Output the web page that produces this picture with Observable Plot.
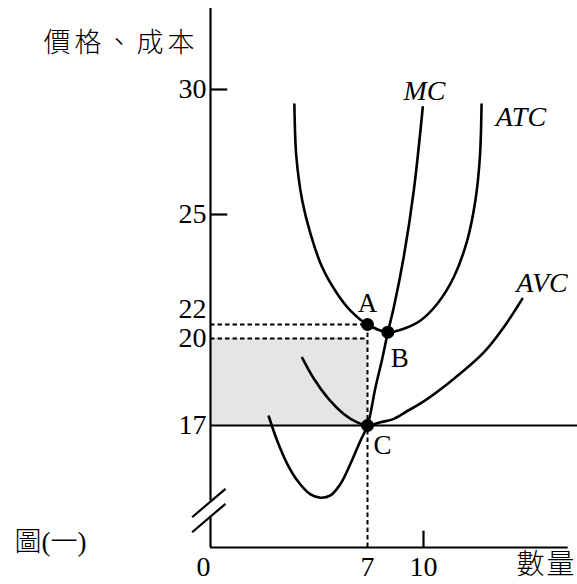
<!DOCTYPE html>
<html><head><meta charset="utf-8">
<script src="https://cdn.jsdelivr.net/npm/d3@7"></script>
<script src="https://cdn.jsdelivr.net/npm/@observablehq/plot@0.6"></script>
<style>
html,body{margin:0;padding:0;background:#fff;}
#chart{width:577px;height:584px;overflow:hidden;}
</style></head>
<body><div id="chart"></div>
<script>
// ---- axis tick values (schematic, piecewise-scaled axes) ----
const xTickValues = [0, 7, 10];
const yTickValues = [30, 25, 22, 20, 17];
const yTickMarks = [30, 25];
const xTickMarks = [10];
const yAxisTop = 33.24;
const xAxisEnd = 17.75;
const line17End = 18.25;
const yAxisGap = [4.39, 6.48];

// ---- cost curves (quantity, price) ----
const atcQ = [3.74, 3.83, 4.09, 4.46, 4.98, 5.65, 6.24, 7, 8.09, 8.94, 9.84, 10.73, 11.62, 12.34, 12.78, 13.02, 13.11];
const atcV = [29.4, 27.29, 25.56, 24.47, 23.56, 22.84, 22.38, 22, 20.9, 21.39, 22.11, 22.56, 23.29, 24.29, 25.56, 27.29, 29.4];
const mcQ = [2.60, 2.97, 3.42, 3.87, 4.46, 4.90, 5.35, 5.80, 6.24, 6.69, 7, 7.43, 7.79, 8.09, 8.41, 8.94, 9.48, 9.96];
const mcV = [17.31, 14.91, 11.66, 9.34, 7.39, 6.93, 7.25, 8.88, 11.66, 14.91, 17, 18.32, 19.30, 20.9, 22.47, 23.84, 25.96, 29.29];
const avcQ = [4.09, 4.61, 5.20, 5.94, 6.54, 7, 7.70, 8.41, 9.13, 9.84, 11.45, 13.23, 14.30, 15.29];
const avcV = [19.33, 18.61, 17.98, 17.40, 17.11, 17, 17.11, 17.23, 17.50, 17.76, 18.52, 19.52, 21.61, 22.70];

// ---- curve labels ----
const curveNames = ["MC", "ATC", "AVC"];
const curveLabelQ = [10.05, 15.22, 16.35];
const curveLabelV = [29.92, 28.88, 23.12];

// ---- marked points ----
const pointNames = ["A", "B", "C"];
const pointQ = [7, 8.09, 7];
const pointV = [22, 20.9, 17];

// ---- shaded area (quantity 0..7, price 17..20) ----
const shadeQ = [0, 7];
const shadeV = [17, 20];

// ---- axis break slashes ----
const breakQ = [-0.82, 0.67];
const breakV1 = [4.22, 8.18];
const breakV2 = [2.13, 6.09];

// ---- texts ----
const yTitle = "價格、成本";
const xTitle = "數量";
const figTitle = "圖(一)";

const serif = '"Liberation Serif", "Noto Sans CJK TC", serif';

const curveData = [
  ...atcQ.map((q, i) => ({name: "ATC", q, v: atcV[i]})),
  ...mcQ.map((q, i) => ({name: "MC", q, v: mcV[i]})),
  ...avcQ.map((q, i) => ({name: "AVC", q, v: avcV[i]}))
];
const labels = curveNames.map((n, i) => ({n, q: curveLabelQ[i], v: curveLabelV[i]}));
const pts = pointNames.map((n, i) => ({n, q: pointQ[i], v: pointV[i]}));
const A = pts[0];
const slashes = [breakV1, breakV2].map(b => ({q1: breakQ[0], q2: breakQ[1], v1: b[0], v2: b[1]}));
const dash = {stroke: "#000", strokeWidth: 2, strokeDasharray: "4.5,3"};

const plot = Plot.plot({
  width: 577,
  height: 584,
  marginLeft: 210,
  marginRight: 9,
  marginTop: 8,
  marginBottom: 37,
  style: {fontFamily: serif, fontSize: "28px", background: "#fff", color: "#000", overflow: "visible"},
  x: {type: "linear", domain: [0, 7, 10], range: [210, 367, 423]},
  y: {type: "linear", domain: [0, 17, 20, 22, 25, 30], range: [547, 425, 338, 324, 214, 89]},
  marks: [
    // shaded rectangle
    Plot.rect([{}], {x1: shadeQ[0], x2: shadeQ[1], y1: shadeV[0], y2: shadeV[1], fill: "#e5e5e5"}),
    // dashed guides
    Plot.ruleY([A.v], {x1: 0, x2: A.q, ...dash}),
    Plot.ruleY([shadeV[1]], {x1: 0, x2: shadeQ[1], ...dash}),
    Plot.ruleX([A.q], {y1: 0, y2: A.v, ...dash}),
    // price line at 17
    Plot.ruleY([shadeV[0]], {x1: 0, x2: line17End, stroke: "#000", strokeWidth: 2}),
    // axes
    Plot.ruleY([0], {x1: 0, x2: xAxisEnd, stroke: "#000", strokeWidth: 2.2}),
    Plot.ruleX([0], {y1: 0, y2: yAxisGap[0], stroke: "#000", strokeWidth: 2.2}),
    Plot.ruleX([0], {y1: yAxisGap[1], y2: yAxisTop, stroke: "#000", strokeWidth: 2.2}),
    Plot.link(slashes, {x1: "q1", y1: "v1", x2: "q2", y2: "v2", stroke: "#000", strokeWidth: 2.2}),
    Plot.ruleY(yTickMarks, {x1: 0, x2: 0.77, stroke: "#000", strokeWidth: 2.2}),
    Plot.ruleX(xTickMarks, {y1: 0, y2: 2.27, stroke: "#000", strokeWidth: 2.2}),
    // tick labels
    Plot.axisY(yTickValues.filter(d => d !== 22), {anchor: "left", tickSize: 0, tickPadding: 4, fontSize: 28, fontFamily: serif}),
    Plot.axisY(yTickValues.filter(d => d === 22), {anchor: "left", tickSize: 0, tickPadding: 4, dy: -15, fontSize: 28, fontFamily: serif}),
    Plot.axisX(xTickValues.filter(d => d !== 0), {anchor: "bottom", tickSize: 0, tickPadding: 9, fontSize: 28, fontFamily: serif}),
    Plot.axisX(xTickValues.filter(d => d === 0), {anchor: "bottom", tickSize: 0, tickPadding: 9, dx: -7, fontSize: 28, fontFamily: serif}),
    // curves
    Plot.line(curveData, {x: "q", y: "v", z: "name", curve: "catmull-rom", stroke: "#000", strokeWidth: 2.6}),
    // points
    Plot.dot(pts, {x: "q", y: "v", r: 6.5, fill: "#000", stroke: "none"}),
    Plot.text(pts.filter(d => d.n === "A"), {x: "q", y: "v", text: "n", dy: -21, fontSize: 27, fontFamily: serif}),
    Plot.text(pts.filter(d => d.n === "B"), {x: "q", y: "v", text: "n", dx: 12, dy: 26, fontSize: 27, fontFamily: serif}),
    Plot.text(pts.filter(d => d.n === "C"), {x: "q", y: "v", text: "n", dx: 15, dy: 20, fontSize: 27, fontFamily: serif}),
    // curve labels
    Plot.text(labels, {x: "q", y: "v", text: "n", fontSize: 28, fontStyle: "italic", fontFamily: serif}),
    // titles
    Plot.text([yTitle], {frameAnchor: "top-left", textAnchor: "end", dx: -12, dy: 24, fontSize: 27, fontWeight: 300, fontFamily: serif}),
    Plot.text([xTitle], {frameAnchor: "bottom-right", textAnchor: "start", dx: -52, dy: 26, fontSize: 28, fontWeight: 300, fontFamily: serif}),
    Plot.text([figTitle], {frameAnchor: "bottom-left", textAnchor: "start", dx: -196, dy: 3, fontSize: 27, fontWeight: 300, fontFamily: serif})
  ]
});
d3.select(plot).selectAll("text").filter(function() { return this.textContent === yTitle; }).attr("letter-spacing", 4);
d3.select(plot).selectAll("text").filter(function() { return this.textContent === xTitle; }).attr("letter-spacing", 2);
document.getElementById("chart").appendChild(plot);
</script>
</body></html>
